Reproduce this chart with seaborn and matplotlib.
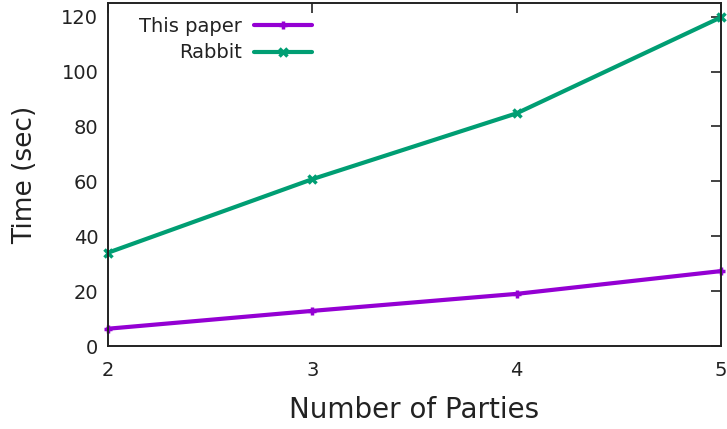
import matplotlib
matplotlib.use("Agg")
import matplotlib.pyplot as plt
import seaborn as sns
import pandas as pd

parties = [2, 3, 4, 5]
this_paper = [6.3, 12.8, 19.0, 27.3]
rabbit = [34.0, 60.8, 84.8, 119.8]
series_names = ["This paper", "Rabbit"]

sns.set_theme(style="white")
plt.rcParams["font.family"] = ["DejaVu Sans"]

df = pd.DataFrame({
    "Number of Parties": parties * 2,
    "Time (sec)": this_paper + rabbit,
    "series": [series_names[0]] * len(parties) + [series_names[1]] * len(parties),
})

colors = {"This paper": "#9400D3", "Rabbit": "#009E73"}
markers = {"This paper": "+", "Rabbit": "x"}

fig = plt.figure(figsize=(7.27, 4.29), dpi=100)
ax = fig.add_axes([108 / 727, 1 - 346 / 429, (721 - 108) / 727, (346 - 3) / 429])

sns.lineplot(data=df, x="Number of Parties", y="Time (sec)", hue="series",
             style="series", markers=markers, dashes=False, palette=colors,
             linewidth=3, markersize=6, markeredgewidth=2.5, ax=ax,
             clip_on=False)

# unfilled markers take the line colour
for ln in ax.lines:
    ln.set_markeredgecolor(ln.get_color())

ax.set_xlim(2, 5)
ax.set_ylim(0, 125)
ax.set_xticks(parties)
ax.set_yticks([0, 20, 40, 60, 80, 100, 120])
ax.tick_params(direction="in", length=7, width=1.2, colors="#222222",
               labelsize=14, top=True, right=True, pad=7,
               labelcolor="#222222")
ax.tick_params(axis="x", pad=11)
for s in ax.spines.values():
    s.set_color("#222222")
    s.set_linewidth(1.4)
ax.set_xlabel("Number of Parties", fontsize=20, labelpad=11, color="#222222")
ax.set_ylabel("Time (sec)", fontsize=19, labelpad=17, color="#222222")

leg = ax.legend(loc="upper left", bbox_to_anchor=((139 - 108) / 613, 0.96),
                frameon=False, markerfirst=False, fontsize=14,
                handlelength=3.0, handletextpad=0.6, labelspacing=0.4,
                borderaxespad=0, borderpad=0)
for t in leg.get_texts():
    t.set_ha("right")
    t.set_color("#222222")
for h in leg.legend_handles:
    h.set_markeredgecolor(h.get_color())
    h.set_markeredgewidth(2.5)

fig.savefig("out.png", dpi=100)
